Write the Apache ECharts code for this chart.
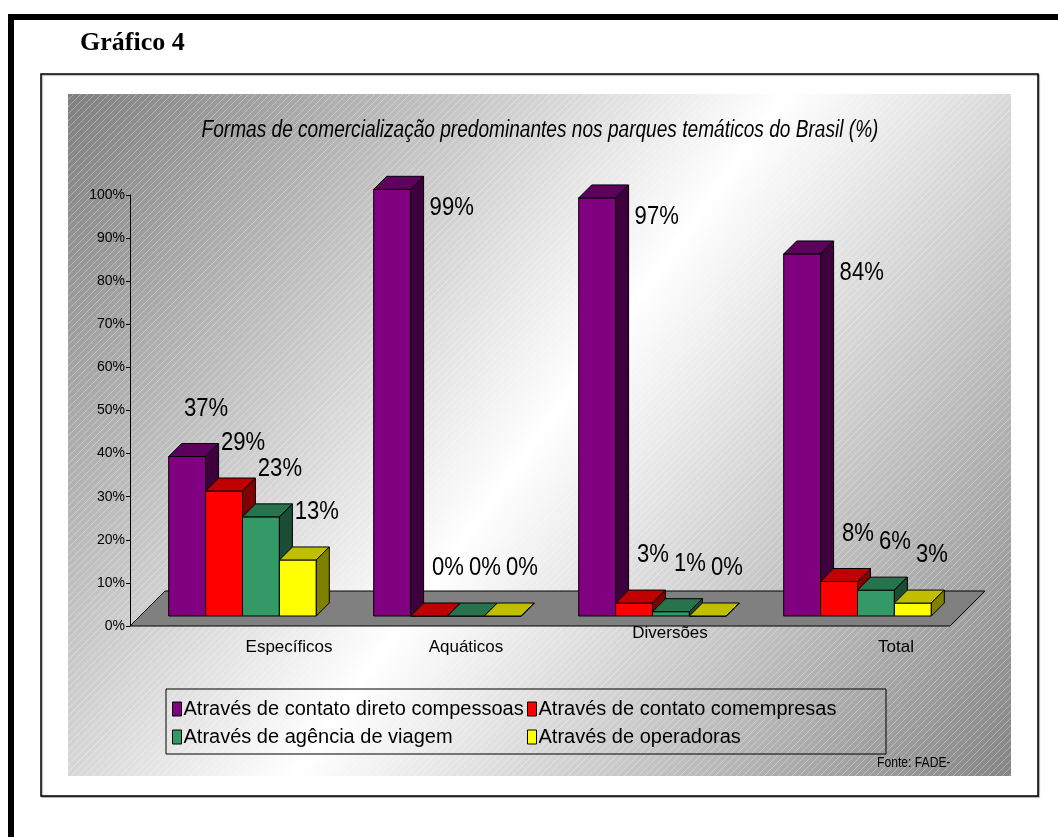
<!DOCTYPE html>
<html>
<head>
<meta charset="utf-8">
<title>Gráfico 4</title>
<script src="https://cdn.jsdelivr.net/npm/echarts@6/dist/echarts.min.js"></script>
<style>
  html, body { margin: 0; padding: 0; background: #fff; }
  #chart { width: 1058px; height: 837px; }
</style>
</head>
<body>
<div id="chart"></div>
<script>
// Categories and series values (%)
const categories = ['Específicos', 'Aquáticos', 'Diversões', 'Total'];
const seriesNames = [
  'Através de contato direto compessoas',
  'Através de contato comempresas',
  'Através de agência de viagem',
  'Através de operadoras'
];
const contatoPessoas = [37, 99, 97, 84];
const contatoEmpresas = [29, 0, 3, 8];
const agenciaViagem = [23, 0, 1, 6];
const operadoras = [13, 0, 0, 3];
const yTicks = [0, 10, 20, 30, 40, 50, 60, 70, 80, 90, 100];

const seriesValues = [contatoPessoas, contatoEmpresas, agenciaViagem, operadoras];

// Face colours for the 3D bars: front, top, side
const faces = [
  { front: '#800080', top: '#5e005e', side: '#3d003d' },
  { front: '#ff0000', top: '#c00000', side: '#800000' },
  { front: '#339966', top: '#26734d', side: '#1a4d33' },
  { front: '#ffff00', top: '#bfbf00', side: '#808000' }
];

const SANS = "'Liberation Sans', Arial, sans-serif";
const CONDENSE = 0.85; // horizontal squeeze applied to free-standing texts
const FRONT = 10;   // bars stand this far behind the front edge of the floor
const DEPTH = 13;   // bar depth
const FLOOR = 35;   // floor depth

// staggered category label placement (left padding, top padding)
const categoryLabelShift = [[113, 19], [57, 19], [55, 5], [97, 19]];

function makeHatch() {
  const s = 7;
  const c = document.createElement('canvas');
  c.width = s; c.height = s;
  const g = c.getContext('2d');
  g.strokeStyle = 'rgba(255,255,255,0.32)';
  g.lineWidth = 1;
  g.beginPath();
  g.moveTo(0, s); g.lineTo(s, 0);
  g.moveTo(-1, 1); g.lineTo(1, -1);
  g.moveTo(s - 1, s + 1); g.lineTo(s + 1, s - 1);
  g.stroke();
  return c;
}

function floorRenderer(params, api) {
  const a = api.coord([0, 0]);
  const b = api.coord([categories.length - 1, 0]);
  const band = api.size([1, 0])[0];
  const xl = a[0] - band / 2, xr = b[0] + band / 2, y = a[1];
  return {
    type: 'polygon',
    shape: { points: [[xl, y], [xr, y], [xr + FLOOR, y - FLOOR], [xl + FLOOR, y - FLOOR]] },
    style: { fill: '#808080', stroke: '#000', lineWidth: 1 }
  };
}

function barRenderer(k) {
  return function (params, api) {
    const cat = api.value(0), val = api.value(1);
    const top = api.coord([cat, val]);
    const base = api.coord([cat, 0]);
    const band = api.size([1, 0])[0];
    const bw = band * 0.18;
    const x0 = top[0] - 2 * bw + k * bw + FRONT;
    const x1 = x0 + bw;
    const yT = top[1] - FRONT, yB = base[1] - FRONT;
    const d = DEPTH;
    const f = faces[k];
    const edge = { stroke: '#000', lineWidth: 1, lineJoin: 'round' };
    const tall = val > 80;
    return {
      type: 'group',
      children: [
        { type: 'polygon', shape: { points: [[x0, yB], [x1, yB], [x1, yT], [x0, yT]] },
          style: Object.assign({ fill: f.front }, edge) },
        { type: 'polygon', shape: { points: [[x0, yT], [x1, yT], [x1 + d, yT - d], [x0 + d, yT - d]] },
          style: Object.assign({ fill: f.top }, edge) },
        { type: 'polygon', shape: { points: [[x1, yT], [x1 + d, yT - d], [x1 + d, yB - d], [x1, yB]] },
          style: Object.assign({ fill: f.side }, edge) },
        { type: 'text', z2: 20,
          x: tall ? x1 + d + 6 : (x0 + x1) / 2 + 19,
          y: tall ? yT + 19 : yT - 48,
          scaleX: CONDENSE,
          style: {
            text: val + '%', fill: '#000',
            font: '26px ' + SANS,
            align: tall ? 'left' : 'center', verticalAlign: 'middle'
          } }
      ]
    };
  };
}

const chart = echarts.init(document.getElementById('chart'), null, { renderer: 'canvas' });

const bgGradient = {
  type: 'linear', x: 0, y: 0, x2: 1, y2: 1,
  colorStops: [
    { offset: 0, color: '#7f7f7f' },
    { offset: 0.5, color: '#ffffff' },
    { offset: 1, color: '#858585' }
  ]
};

const legendCommon = {
  orient: 'vertical', top: 694, itemGap: 8, itemWidth: 9, itemHeight: 14,
  icon: 'rect', padding: 5, selectedMode: false,
  itemStyle: { borderColor: '#000', borderWidth: 1 },
  textStyle: { color: '#000', fontSize: 20, fontFamily: SANS, padding: [0, 0, 0, -3] }
};

const option = {
  animation: false,
  backgroundColor: '#fff',
  graphic: [
    // page frame
    { type: 'rect', z: -5, shape: { x: 8, y: 14, width: 1050, height: 6 }, style: { fill: '#000' } },
    { type: 'rect', z: -5, shape: { x: 8, y: 14, width: 6, height: 823 }, style: { fill: '#000' } },
    { type: 'rect', z: -5, shape: { x: 41, y: 74, width: 997, height: 722 },
      style: { fill: '#fff', stroke: '#000', lineWidth: 1.5, shadowColor: 'rgba(0,0,0,0.35)', shadowOffsetX: 1, shadowOffsetY: 1, shadowBlur: 1 } },
    // chart area background
    { type: 'rect', z: -4, shape: { x: 68, y: 94, width: 943, height: 682 }, style: { fill: bgGradient } },
    { type: 'rect', z: -3, shape: { x: 68, y: 94, width: 943, height: 682 },
      style: { fill: { image: makeHatch(), repeat: 'repeat' } } },
    { type: 'text', z: 5, x: 80, y: 43,
      style: { text: 'Gráfico 4', fill: '#000', font: 'bold 26px "Liberation Serif", "Times New Roman", serif', verticalAlign: 'middle' } },
    { type: 'text', z: 5, x: 540, y: 131, scaleX: 0.83,
      style: { text: 'Formas de comercialização predominantes nos parques temáticos do Brasil (%)',
        fill: '#000', font: 'italic 23px ' + SANS, align: 'center', verticalAlign: 'middle' } },
    // legend frame
    { type: 'rect', z: 5, shape: { x: 166, y: 689, width: 720, height: 65 },
      style: { fill: 'none', stroke: '#000', lineWidth: 1 } },
    { type: 'text', z: 5, x: 877, y: 763, scaleX: 0.81,
      style: { text: 'Fonte: FADE-', fill: '#000', font: '15px ' + SANS, verticalAlign: 'middle' } }
  ],
  legend: [
    Object.assign({ left: 167, data: [seriesNames[0], seriesNames[2]] }, legendCommon),
    Object.assign({ left: 522, data: [seriesNames[1], seriesNames[3]] }, legendCommon)
  ],
  grid: { left: 130, right: 108, top: 195, bottom: 211 },
  xAxis: {
    type: 'category',
    data: categories.map((c, i) => ({
      value: c,
      textStyle: { padding: [categoryLabelShift[i][1], 0, 0, categoryLabelShift[i][0]] }
    })),
    axisLine: { show: false },
    axisTick: { show: false },
    axisLabel: { interval: 0, margin: -6, color: '#000', fontSize: 17, fontFamily: SANS }
  },
  yAxis: {
    type: 'value',
    min: yTicks[0], max: yTicks[yTicks.length - 1], interval: yTicks[1] - yTicks[0],
    axisLine: { show: true, lineStyle: { color: '#000', width: 1 } },
    axisTick: { show: true, length: 4, lineStyle: { color: '#000' } },
    splitLine: { show: false },
    axisLabel: { formatter: '{value}%', margin: 5, color: '#000', fontSize: 14, fontFamily: SANS }
  },
  series: [
    { type: 'custom', name: 'floor', z: 1, silent: true, clip: false,
      renderItem: floorRenderer, data: [[0, 0]], encode: { x: 0, y: 1 } }
  ].concat(seriesValues.map((vals, k) => ({
    type: 'custom',
    name: seriesNames[k],
    z: 2 + k,
    clip: false,
    itemStyle: { color: faces[k].front, borderColor: '#000', borderWidth: 1 },
    renderItem: barRenderer(k),
    encode: { x: 0, y: 1 },
    data: vals.map((v, i) => [i, v])
  })))
};

chart.setOption(option);
</script>
</body>
</html>
